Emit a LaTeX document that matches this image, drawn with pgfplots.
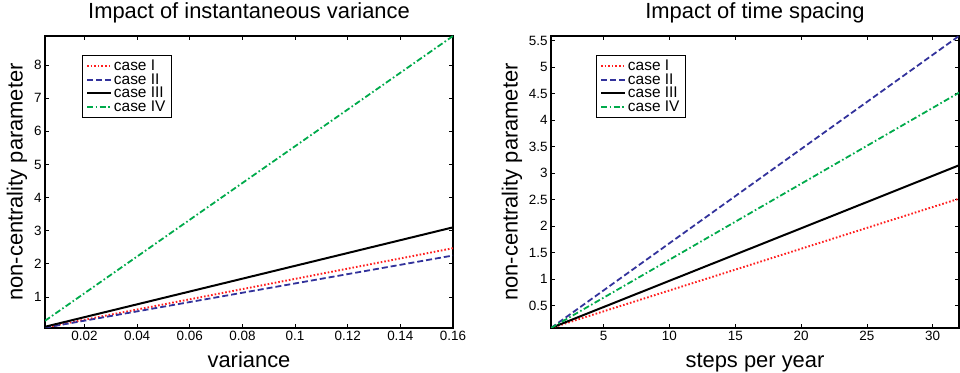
\documentclass[border=0pt]{standalone}
\usepackage{fontspec}
\setmainfont{Liberation Sans}
\usepackage{pgfplots}
\pgfplotsset{compat=1.18}
\definecolor{cred}{RGB}{255,30,30}
\definecolor{cblue}{RGB}{50,50,155}
\definecolor{cgreen}{RGB}{0,170,75}
\newcommand\lf{\fontsize{15.5}{16}\selectfont}
\tikzset{
  lI/.style={cred, line width=1.9bp, dash pattern=on 1.6bp off 2bp},
  lII/.style={cblue, line width=1.8bp, dash pattern=on 6bp off 3bp},
  lIII/.style={black, line width=2bp},
  lIV/.style={cgreen, line width=1.8bp, dash pattern=on 6bp off 2.5bp on 1.6bp off 2.5bp},
}
\pgfplotsset{
  mystyle/.style={
    scale only axis, width=408bp, height=292bp,
    axis line style={line width=1.2bp},
    tick style={black, line width=0.6bp},
    major tick length=4bp,
    tick align=inside,
    xtick pos=both, ytick pos=both,
    /pgf/number format/assume math mode=true,
    tick label style={font=\fontsize{13.5}{15}\selectfont},
    label style={font=\fontsize{22}{25}\selectfont},
    title style={font=\fontsize{22}{25}\selectfont, at={(axis description cs:0.5,1.041)}, anchor=base},
    xlabel style={at={(axis description cs:0.5,-0.1336)}, anchor=base},
    ylabel style={rotate=0, anchor=center},
    legend cell align=left,
    legend image code/.code={\draw[#1] (0bp,0bp) -- (24bp,0bp);},
    legend image post style={line width=1.8bp},
    legend style={anchor=north west, draw=black, line width=0.9bp,
      inner xsep=4bp, inner ysep=2.5bp, row sep=-2.5bp,
      nodes={inner sep=2bp},
      /tikz/every even column/.append style={column sep=0.5bp}},
  },
}
\begin{document}
\begin{tikzpicture}
\useasboundingbox (0,0) rectangle (960bp,373bp);
\begin{axis}[mystyle, at={(45bp,45bp)}, anchor=south west,
  xmin=0.005, xmax=0.16, ymin=0.06, ymax=8.88,
  xtick={0.02,0.04,0.06,0.08,0.1,0.12,0.14,0.16},
  ytick={1,2,3,4,5,6,7,8},
  xticklabel style={/pgf/number format/fixed, /pgf/number format/precision=2},
  title={Impact of instantaneous variance},
  xlabel={variance}, ylabel={non-centrality parameter},
  ylabel style={at={(axis description cs:-0.069,0.5)}},
  legend style={at={(axis description cs:0.09,0.935)}},
]
\addplot[lI] coordinates {(0.005,0.077) (0.04,0.618) (0.08,1.235) (0.12,1.853) (0.16,2.47)};
\addlegendentry{\lf case I}
\addplot[lII] coordinates {(0.005,0.07) (0.04,0.5625) (0.08,1.125) (0.12,1.6875) (0.16,2.25)};
\addlegendentry{\lf case II}
\addplot[lIII] coordinates {(0.005,0.097) (0.04,0.775) (0.08,1.55) (0.12,2.325) (0.16,3.1)};
\addlegendentry{\lf case III}
\addplot[lIV] coordinates {(0.005,0.2775) (0.04,2.22) (0.08,4.44) (0.12,6.66) (0.16,8.88)};
\addlegendentry{\lf case IV}
\end{axis}
\begin{axis}[mystyle, at={(551bp,45bp)}, anchor=south west,
  xmin=1, xmax=32, ymin=0.08, ymax=5.59,
  xtick={5,10,15,20,25,30},
  ytick={0.5,1,1.5,2,2.5,3,3.5,4,4.5,5,5.5},
  title={Impact of time spacing},
  xlabel={steps per year}, ylabel={non-centrality parameter},
  ylabel style={at={(axis description cs:-0.096,0.5)}},
  legend style={at={(axis description cs:0.1096,0.935)}},
]
\addplot[lI] coordinates {(1,0.08) (8,0.631) (16,1.26) (24,1.89) (32,2.52)};
\addlegendentry{\lf case I}
\addplot[lII] coordinates {(1,0.08) (8,1.324) (16,2.746) (24,4.167) (32,5.59)};
\addlegendentry{\lf case II}
\addplot[lIII] coordinates {(1,0.08) (8,0.773) (16,1.565) (24,2.357) (32,3.15)};
\addlegendentry{\lf case III}
\addplot[lIV] coordinates {(1,0.08) (8,1.082) (16,2.228) (24,3.374) (32,4.52)};
\addlegendentry{\lf case IV}
\end{axis}
\end{tikzpicture}
\end{document}
